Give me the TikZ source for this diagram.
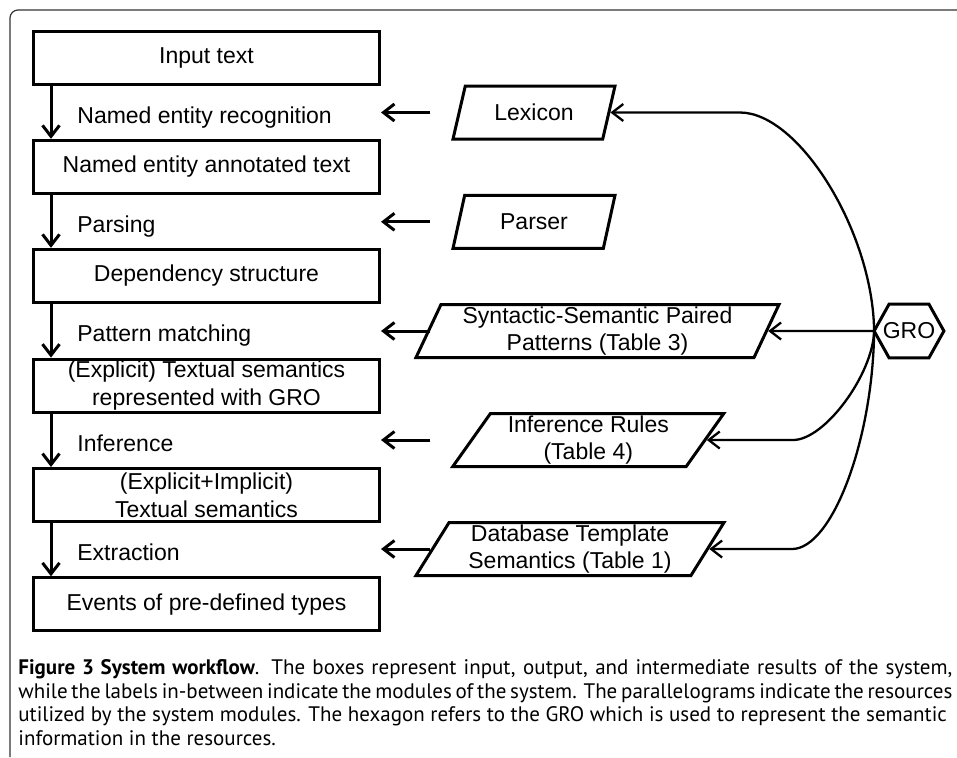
\documentclass[tikz,border=0pt]{standalone}
\usepackage{fontspec}
\setmainfont{Liberation Sans}
\newfontfamily\captionfont{PT Sans}
\usetikzlibrary{arrows.meta,shapes.geometric}

\begin{document}
\begin{tikzpicture}[%
    x=0.5pt, y=-0.5pt,
    font=\fontsize{11.5}{13.8}\selectfont,
    >={Straight Barb[length=5.5pt,width=8.5pt]},
    stage/.style={
        draw, line width=1.5pt,
        minimum width=173pt, minimum height=26.5pt,
        inner sep=0pt, align=center
    },
    module/.style={anchor=base west, inner sep=0pt},
    resource/.style={
        draw, line width=1.5pt, trapezium,
        trapezium left angle=#1, trapezium right angle=180-#1,
        trapezium stretches body,
        minimum height=26.5pt, inner xsep=2pt, inner ysep=0pt,
        align=center
    },
    flow/.style={->, line width=1.5pt},
    link/.style={->, line width=1.15pt}
]
    % Page size and the frame of the figure.
    \useasboundingbox (0,0) rectangle (957,757);
    \draw[line width=0.6pt, black!80, rounded corners=4pt]
        (10,757) -- (10,10) -- (957,10);

    % Columns used by the arrows.
    \coordinate (spine) at (51,0);
    \coordinate (rescol) at (430,0);

    % Intermediate results.
    \node[stage] (input)     at (206.5, 57.5)  {Input text};
    \node[stage] (annotated) at (206.5, 166.8) {Named entity annotated text};
    \node[stage] (depend)    at (206.5, 275.8) {Dependency structure};
    \node[stage] (explicit)  at (206.5, 385.6) {(Explicit) Textual semantics\\represented with GRO};
    \node[stage] (implicit)  at (206.5, 495)   {(Explicit+Implicit)\\Textual semantics};
    \node[stage] (events)    at (206.5, 604.3) {Events of pre-defined types};

    % Modules.
    \node[module] (ner)        at (77, 123.8) {Named entity recognition};
    \node[module] (parsing)    at (77, 232.5) {Parsing};
    \node[module] (matching)   at (77, 341.5) {Pattern matching};
    \node[module] (inferring)  at (77, 451.5) {Inference};
    \node[module] (extraction) at (77, 560.8) {Extraction};

    % Resources.
    \node[resource=54, minimum width=81pt]     (lexicon)  at (534, 112.5) {Lexicon};
    \node[resource=54, minimum width=81pt]     (parser)   at (534, 221.8) {Parser};
    \node[resource=63, minimum width=181.5pt]  (patterns) at (597.5, 331) {Syntactic-Semantic Paired\\Patterns (Table 3)};
    \node[resource=52.5, minimum width=135.5pt] (rules)   at (588.3, 440) {Inference Rules\\(Table 4)};
    \node[resource=56, minimum width=154pt]    (template) at (570, 549)   {Database Template\\Semantics (Table 1)};

    % The GRO hexagon.
    \node[inner sep=0pt, minimum width=34.5pt, minimum height=26.5pt] (gro) at (909, 331) {GRO};
    \draw[line width=1.5pt] (gro.west) -- ([xshift=7.5pt]gro.north west)
                                       -- ([xshift=-7.5pt]gro.north east)
                                       -- (gro.east)
                                       -- ([xshift=-7.5pt]gro.south east)
                                       -- ([xshift=7.5pt]gro.south west) -- cycle;

    % Workflow down the left side.
    \draw[flow] (input.south -| spine)     -- (annotated.north -| spine);
    \draw[flow] (annotated.south -| spine) -- (depend.north -| spine);
    \draw[flow] (depend.south -| spine)    -- (explicit.north -| spine);
    \draw[flow] (explicit.south -| spine)  -- (implicit.north -| spine);
    \draw[flow] (implicit.south -| spine)  -- (events.north -| spine);

    % Resources used by the modules.
    \draw[flow] (lexicon.west -| rescol)  -- (lexicon.west -| input.east);
    \draw[flow] (parser.west -| rescol)   -- (parser.west -| input.east);
    \draw[flow] (patterns.west -| rescol) -- (patterns.west -| input.east);
    \draw[flow] (rules.west -| rescol)    -- (rules.west -| input.east);
    \draw[flow] (template.west -| rescol) -- (template.west -| input.east);

    % GRO feeds the resources.
    \coordinate (lexbend)  at (740, 112.5);
    \coordinate (rulebend) at (793, 440);
    \coordinate (tempbend) at (792, 549);
    \draw[link] (gro.west) .. controls (873,232) and (799,112.5) .. (lexbend) -- (lexicon.east);
    \draw[link] (gro.west) -- (patterns.east);
    \draw[link] (gro.west) .. controls (873,374) and (825,440) .. (rulebend) -- (rules.east);
    \draw[link] (gro.west) .. controls (873,440) and (832,549) .. (tempbend) -- (template.east);

    % Caption (base is the last line).
    \node[anchor=base west, inner sep=0pt, align=left,
          font=\captionfont\fontsize{10.5}{11.7}\selectfont] (caption) at (18, 745) {%
        \makebox[467pt][s]{\textbf{Figure 3 System workflow}. The boxes represent input, output, and intermediate results of the system,}\\
        \makebox[467pt][s]{while the labels in-between indicate the modules of the system. The parallelograms indicate the resources}\\
        utilized by the system modules. The hexagon refers to the GRO which is used to represent the semantic\\
        information in the resources.};
\end{tikzpicture}
\end{document}
